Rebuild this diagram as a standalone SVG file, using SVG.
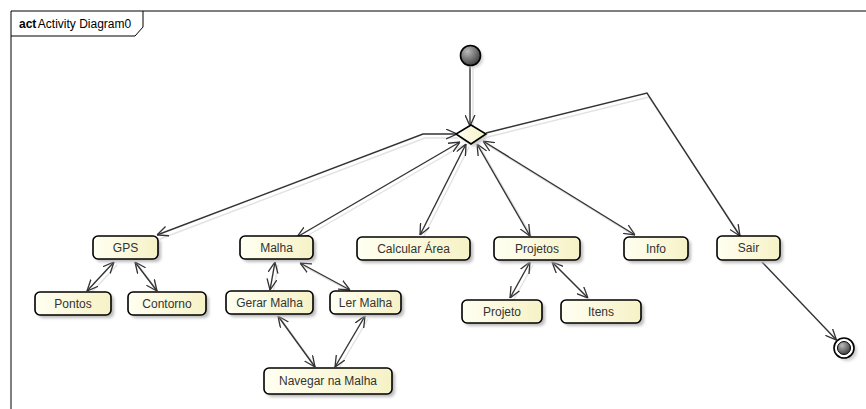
<svg xmlns="http://www.w3.org/2000/svg" width="866" height="409" viewBox="0 0 866 409">
<defs>
<style>
.node rect.b{fill:url(#ng);stroke:#000;stroke-width:1.6}
.node rect.s{fill:#bbb;filter:url(#blur)}
.node text{font-family:"Liberation Sans",Arial,sans-serif;font-size:12px;fill:#333;text-anchor:middle}
.edge{fill:none;stroke:#333;stroke-width:1.4}
.both{marker-start:url(#arr);marker-end:url(#arr)}
.end{marker-end:url(#arr)}
.shd{fill:none;stroke:#e2e2e2;stroke-width:1.4}
</style>
<linearGradient id="ng" x1="0" y1="0" x2="1" y2="0">
<stop offset="0" stop-color="#FFFFF2"/>
<stop offset="1" stop-color="#F6F2C6"/>
</linearGradient>
<radialGradient id="ig" cx="0.35" cy="0.3" r="0.8">
<stop offset="0" stop-color="#bbb"/>
<stop offset="1" stop-color="#333"/>
</radialGradient>
<filter id="blur" x="-20%" y="-20%" width="140%" height="140%"><feGaussianBlur stdDeviation="1.5"/></filter>
<marker id="arr" viewBox="0 0 10 10" refX="10" refY="5" markerWidth="11" markerHeight="11" markerUnits="userSpaceOnUse" orient="auto-start-reverse">
<path d="M0,0.5 L10,5 L0,9.5" fill="none" stroke="#333" stroke-width="1.2"/>
</marker>
</defs>
<rect width="866" height="409" fill="#fff"/>
<g id="frame">
<path d="M11,409 L11,11 L866,11" fill="none" stroke="#000" stroke-width="1"/>
<path d="M11,36 L135,36 L143,27 L143,11" fill="none" stroke="#000" stroke-width="1"/>
<text x="19" y="28" font-family="'Liberation Sans',Arial,sans-serif" font-size="12" fill="#000"><tspan font-weight="bold">act</tspan><tspan dx="1.5">Activity Diagram0</tspan></text>
</g>
<g id="shadows">
<path class="shd" d="M473,67 L473,127"/>
<path class="shd" d="M488,137 L649,97 L742,238"/>
<path class="shd" d="M160,239 L425,138 L458,138"/>
<path class="shd" d="M300,240 L463,145"/>
<path class="shd" d="M423,238 L469,147"/>
<path class="shd" d="M533,239 L480,147"/>
<path class="shd" d="M638,238 L486,144"/>
<path class="shd" d="M117,265 L90,294"/>
<path class="shd" d="M138,265 L160,294"/>
<path class="shd" d="M278,265 L273,293"/>
<path class="shd" d="M303,266 L353,293"/>
<path class="shd" d="M281,319 L318,370"/>
<path class="shd" d="M368,319 L338,370"/>
<path class="shd" d="M533,265 L513,301"/>
<path class="shd" d="M555,265 L591,301"/>
</g>
<g id="connectors">
<path class="edge end" d="M470,66 L470,126"/>
<path class="edge end" d="M486,133 L647,93 L740,236"/>
<path class="edge end" d="M762,262 L836.5,340"/>
<path class="edge both" d="M157,235 L423,134 L457,134"/>
<path class="edge both" d="M297,237 L460,142"/>
<path class="edge both" d="M420,235 L466,144"/>
<path class="edge both" d="M530,236 L477,144"/>
<path class="edge both" d="M635,235 L483,141"/>
<path class="edge both" d="M114,262 L87,291"/>
<path class="edge both" d="M135,262 L157,291"/>
<path class="edge both" d="M275,262 L270,290"/>
<path class="edge both" d="M300,263 L350,290"/>
<path class="edge both" d="M278,316 L315,367"/>
<path class="edge both" d="M365,316 L335,367"/>
<path class="edge both" d="M530,262 L510,298"/>
<path class="edge both" d="M552,262 L588,298"/>
</g>
<g id="initial">
<circle cx="473" cy="58" r="10" fill="#ccc" filter="url(#blur)"/>
<circle cx="470.5" cy="55.5" r="10" fill="url(#ig)" stroke="#000" stroke-width="1.6"/>
</g>
<g id="decision">
<path d="M474,128 L489,137 L474,147 L459,137 Z" fill="#ccc" filter="url(#blur)"/>
<path d="M471,125 L486,134 L471,144 L456,134 Z" fill="url(#ng)" stroke="#000" stroke-width="1.6"/>
</g>
<g id="final">
<circle cx="847" cy="351" r="10" fill="#ccc" filter="url(#blur)"/>
<circle cx="844" cy="348" r="10" fill="#fff" stroke="#000" stroke-width="1.6"/>
<circle cx="844" cy="348" r="6.5" fill="url(#ig)" stroke="#000" stroke-width="1"/>
</g>
<g id="gps" class="node"><rect class="s" x="96" y="239" width="65" height="23" rx="5"/><rect class="b" x="93" y="236" width="65" height="23" rx="5"/><text x="125.5" y="252">GPS</text></g>
<g id="pontos" class="node"><rect class="s" x="38" y="295" width="76" height="23" rx="5"/><rect class="b" x="35" y="292" width="76" height="23" rx="5"/><text x="73" y="308">Pontos</text></g>
<g id="contorno" class="node"><rect class="s" x="131" y="295" width="78" height="23" rx="5"/><rect class="b" x="128" y="292" width="78" height="23" rx="5"/><text x="167" y="308">Contorno</text></g>
<g id="malha" class="node"><rect class="s" x="243" y="239" width="73" height="23" rx="5"/><rect class="b" x="240" y="236" width="73" height="23" rx="5"/><text x="276.5" y="252">Malha</text></g>
<g id="gerar-malha" class="node"><rect class="s" x="229" y="294" width="87" height="23" rx="5"/><rect class="b" x="226" y="291" width="87" height="23" rx="5"/><text x="269.5" y="307">Gerar Malha</text></g>
<g id="ler-malha" class="node"><rect class="s" x="333" y="294" width="71" height="23" rx="5"/><rect class="b" x="330" y="291" width="71" height="23" rx="5"/><text x="365.5" y="307">Ler Malha</text></g>
<g id="navegar" class="node"><rect class="s" x="267" y="371" width="128" height="26" rx="5"/><rect class="b" x="264" y="368" width="128" height="26" rx="5"/><text x="328" y="385">Navegar na Malha</text></g>
<g id="calcular" class="node"><rect class="s" x="360" y="240" width="113" height="23" rx="5"/><rect class="b" x="357" y="237" width="113" height="23" rx="5"/><text x="413.5" y="253">Calcular Área</text></g>
<g id="projetos" class="node"><rect class="s" x="497" y="240" width="86" height="23" rx="5"/><rect class="b" x="494" y="237" width="86" height="23" rx="5"/><text x="537" y="253">Projetos</text></g>
<g id="projeto" class="node"><rect class="s" x="465" y="303" width="80" height="23" rx="5"/><rect class="b" x="462" y="300" width="80" height="23" rx="5"/><text x="502" y="316">Projeto</text></g>
<g id="itens" class="node"><rect class="s" x="564" y="303" width="80" height="23" rx="5"/><rect class="b" x="561" y="300" width="80" height="23" rx="5"/><text x="601" y="316">Itens</text></g>
<g id="info" class="node"><rect class="s" x="627" y="240" width="64" height="23" rx="5"/><rect class="b" x="624" y="237" width="64" height="23" rx="5"/><text x="656" y="253">Info</text></g>
<g id="sair" class="node"><rect class="s" x="720" y="239" width="63" height="24" rx="5"/><rect class="b" x="717" y="236" width="63" height="24" rx="5"/><text x="748.5" y="252">Sair</text></g>
</svg>
